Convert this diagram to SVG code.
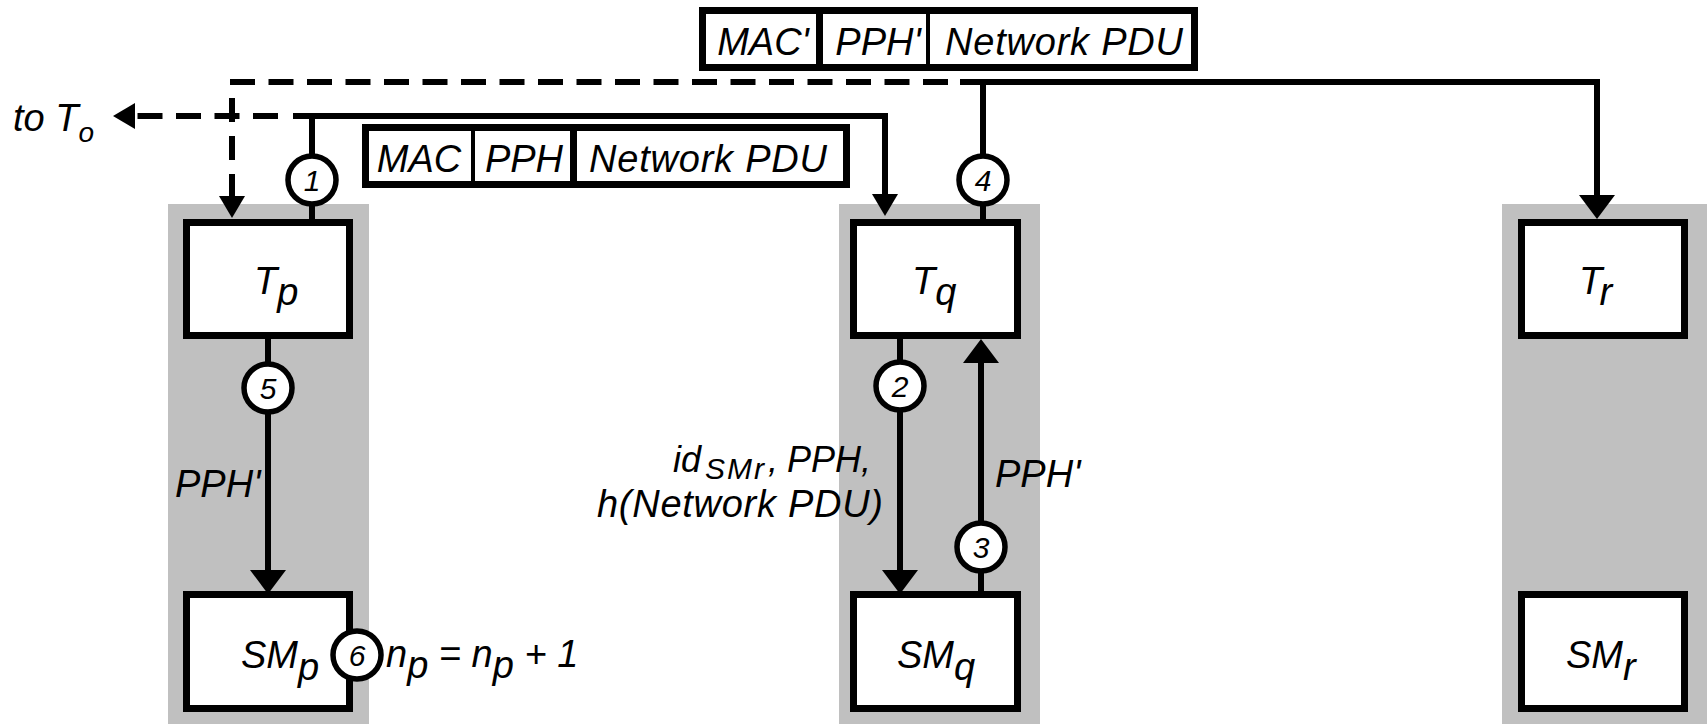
<svg xmlns="http://www.w3.org/2000/svg" width="1707" height="724" viewBox="0 0 1707 724">
<style>
text{font-family:"Liberation Sans",Arial,sans-serif;font-style:italic;font-size:38px;fill:#000}
.col{fill:#c0c0c0}
.box{fill:#fff;stroke:#000;stroke-width:7}
.pkt{fill:#fff;stroke:#000;stroke-width:7}
.div{stroke:#000}
.ln{fill:none;stroke:#000;stroke-width:6}
.dash{fill:none;stroke:#000;stroke-width:6;stroke-dasharray:25 13.5}
.circ{fill:#fff;stroke:#000;stroke-width:5.5}
.num{font-size:30px;text-anchor:middle}
.mid{text-anchor:middle}
</style>
<defs>
<marker id="ab" markerUnits="userSpaceOnUse" markerWidth="24" markerHeight="36" viewBox="0 0 24 36" refX="12" refY="18" orient="auto"><path d="M0,0 L24,18 L0,36 Z" fill="#000"/></marker>
<marker id="as" markerUnits="userSpaceOnUse" markerWidth="22" markerHeight="26" viewBox="0 0 22 26" refX="11" refY="13" orient="auto"><path d="M0,0 L22,13 L0,26 Z" fill="#000"/></marker>
</defs>
<rect width="1707" height="724" fill="#fff"/>
<g id="columns">
<rect class="col" x="168" y="204" width="201" height="520"/>
<rect class="col" x="839" y="204" width="201" height="520"/>
<rect class="col" x="1502" y="204" width="205" height="520"/>
</g>
<g id="connectors">
<path class="dash" d="M230,82 H960"/>
<path class="dash" d="M232,98 V207" style="stroke-dasharray:24 14" marker-end="url(#as)"/>
<path class="dash" d="M278,116 H124" marker-end="url(#as)"/>
<path class="ln" d="M960,82 H1597 V207" marker-end="url(#ab)"/>
<path class="ln" d="M983,82 V219"/>
<path class="ln" d="M293,116 H885 V205" marker-end="url(#as)"/>
<path class="ln" d="M312,116 V219"/>
<path class="ln" d="M268,339 V582" marker-end="url(#ab)"/>
<path class="ln" d="M900,339 V582" marker-end="url(#ab)"/>
<path class="ln" d="M981,591 V351" marker-end="url(#ab)"/>
</g>
<g id="packet-top">
<rect class="pkt" x="702.5" y="10.5" width="492" height="57"/>
<line class="div" x1="819.5" y1="10" x2="819.5" y2="68" stroke-width="7"/>
<line class="div" x1="928" y1="10" x2="928" y2="68" stroke-width="4"/>
<text class="mid" x="763" y="55">MAC'</text>
<text class="mid" x="878" y="55">PPH'</text>
<text class="mid" x="1064" y="55" textLength="238">Network PDU</text>
</g>
<g id="packet-mid">
<rect class="pkt" x="365.5" y="127.5" width="481" height="57"/>
<line class="div" x1="473" y1="127" x2="473" y2="185" stroke-width="4"/>
<line class="div" x1="573.5" y1="127" x2="573.5" y2="185" stroke-width="7"/>
<text class="mid" x="419" y="172">MAC</text>
<text class="mid" x="524" y="172">PPH</text>
<text class="mid" x="708" y="172" textLength="238">Network PDU</text>
</g>
<g id="Tp">
<rect class="box" x="186.5" y="222.5" width="163" height="113"/>
<text x="254" y="294">T<tspan dy="11">p</tspan></text>
</g>
<g id="Tq">
<rect class="box" x="853.5" y="222.5" width="164" height="113"/>
<text x="912" y="294">T<tspan dy="11">q</tspan></text>
</g>
<g id="Tr">
<rect class="box" x="1521.5" y="222.5" width="163" height="113"/>
<text x="1579" y="294">T<tspan dy="11">r</tspan></text>
</g>
<g id="SMp">
<rect class="box" x="186.5" y="594.5" width="163" height="114"/>
<text x="241" y="668">SM<tspan dy="12">p</tspan></text>
</g>
<g id="SMq">
<rect class="box" x="853.5" y="594.5" width="164" height="114"/>
<text x="897" y="668">SM<tspan dy="12">q</tspan></text>
</g>
<g id="SMr">
<rect class="box" x="1521.5" y="594.5" width="163" height="114"/>
<text x="1566" y="668">SM<tspan dy="12">r</tspan></text>
</g>
<g id="step1"><circle class="circ" cx="312" cy="180" r="24"/><text class="num" x="312" y="191">1</text></g>
<g id="step2"><circle class="circ" cx="900" cy="386" r="24"/><text class="num" x="900" y="397">2</text></g>
<g id="step3"><circle class="circ" cx="981" cy="547" r="24"/><text class="num" x="981" y="558">3</text></g>
<g id="step4"><circle class="circ" cx="983" cy="180" r="24"/><text class="num" x="983" y="191">4</text></g>
<g id="step5"><circle class="circ" cx="268" cy="388" r="24"/><text class="num" x="268" y="399">5</text></g>
<g id="step6"><circle class="circ" cx="357" cy="655" r="24"/><text class="num" x="357" y="666">6</text></g>
<g id="labels">
<text x="13" y="131" font-size="35">to T<tspan font-size="28" dy="11">o</tspan></text>
<text x="175" y="497">PPH'</text>
<text x="995" y="487">PPH'</text>
<text y="472"><tspan x="673" font-size="36">id</tspan><tspan x="705" y="479" font-size="30" letter-spacing="2">SMr</tspan><tspan x="768" y="472" font-size="36">,</tspan><tspan x="787" font-size="36">PPH,</tspan></text>
<text x="597" y="517" font-size="36" textLength="286">h(Network PDU)</text>
<text x="386" y="667">n<tspan dy="11">p</tspan><tspan dy="-11"> = n</tspan><tspan dy="11">p</tspan><tspan dy="-11"> + 1</tspan></text>
</g>
</svg>
